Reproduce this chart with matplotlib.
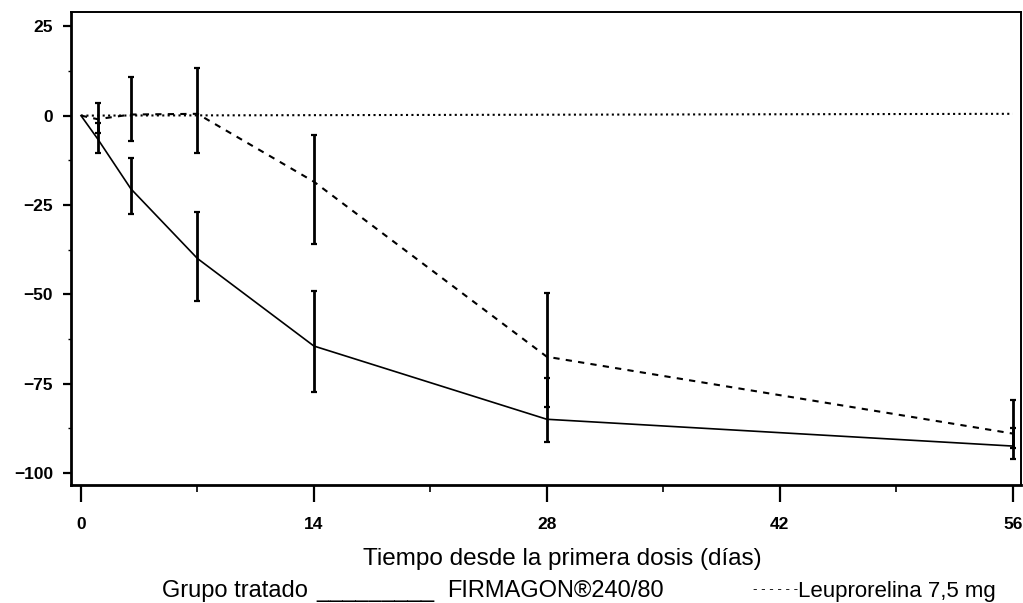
import numpy as np
import matplotlib
matplotlib.use("Agg")
import matplotlib.pyplot as plt
from matplotlib.ticker import FixedLocator

plt.rcParams['font.family'] = ['Liberation Sans', 'DejaVu Sans']

# data (% change from baseline)
days = [0, 1, 3, 7, 14, 28, 56]

firm_mean = [0, -6.5, -20.5, -40, -64.5, -85, -92.5]
firm_low  = [np.nan, -10.5, -27.5, -52, -77.5, -91.5, -96]
firm_high = [np.nan, -2, -12, -27, -49, -73.5, -87.5]

leup_mean = [0, -1, 0.3, 0.5, -18.5, -67.5, -89]
leup_low  = [np.nan, -5, -7, -10.5, -36, -81.5, -93]
leup_high = [np.nan, 3.5, 10.8, 13.3, -5.3, -49.6, -79.7]

ref_days = [0, 56]
ref_vals = [0, 0.5]

xticks = [0, 14, 28, 42, 56]
xminor = [7, 21, 35, 49]
yticks = [25, 0, -25, -50, -75, -100]

W, H = 1023, 603
fig = plt.figure(figsize=(W / 100, H / 100), dpi=100)
ax = fig.add_axes([71 / W, 1 - 485 / H, (1021 - 71) / W, (485 - 12) / H])

ax.plot(ref_days, ref_vals, color='black', lw=1.5, linestyle=(0, (1, 1.6)))
ax.plot(days, firm_mean, color='black', lw=1.2, linestyle='-')
ax.plot(days, leup_mean, color='black', lw=1.5, linestyle=(0, (3, 3)))


def bars(x, mean, low, high):
    x = np.array(x[1:], float)
    m = np.array(mean[1:], float)
    lo = m - np.array(low[1:], float)
    hi = np.array(high[1:], float) - m
    ax.errorbar(x, m, yerr=[lo, hi], fmt='none', ecolor='black',
                elinewidth=2.0, capsize=2.5, capthick=1.6)


bars(days, firm_mean, firm_low, firm_high)
bars(days, leup_mean, leup_low, leup_high)

ax.set_xlim(-0.6, 56.5)
ax.set_ylim(-103.4, 29)
ax.set_xticks(xticks)
ax.xaxis.set_minor_locator(FixedLocator(xminor))
ax.set_yticks(yticks)
ax.yaxis.set_minor_locator(FixedLocator(np.arange(-87.5, 25, 25)))

ax.tick_params(axis='x', which='major', length=12, width=1.6, pad=11,
               labelsize=12.5)
ax.tick_params(axis='x', which='minor', length=5, width=1.2)
ax.tick_params(axis='y', which='major', length=6, width=1.6, pad=7,
               labelsize=12.5)
ax.tick_params(axis='y', which='minor', length=2.5, width=1.0)
for lab in ax.get_xticklabels() + ax.get_yticklabels():
    lab.set_fontweight('bold')

for s in ['left', 'bottom']:
    ax.spines[s].set_linewidth(2.0)
for s in ['top', 'right']:
    ax.spines[s].set_linewidth(1.4)

fig.text(562 / W, 1 - 565 / H, 'Tiempo desde la primera dosis (días)',
         ha='center', va='baseline', fontsize=17.5)
ly = 1 - 597 / H
fig.text(162 / W, ly, 'Grupo tratado', ha='left', va='baseline', fontsize=17)
fig.text(316 / W, ly, '_________', ha='left', va='baseline', fontsize=17)
fig.text(447 / W, ly, 'FIRMAGON®240/80', ha='left', va='baseline', fontsize=17)
fig.text(753 / W, 1 - 593 / H, '- - - - - -', ha='left', va='baseline',
         fontsize=9.5)
fig.text(798 / W, ly, 'Leuprorelina 7,5 mg', ha='left', va='baseline',
         fontsize=16)

fig.savefig('out.png', dpi=100)
